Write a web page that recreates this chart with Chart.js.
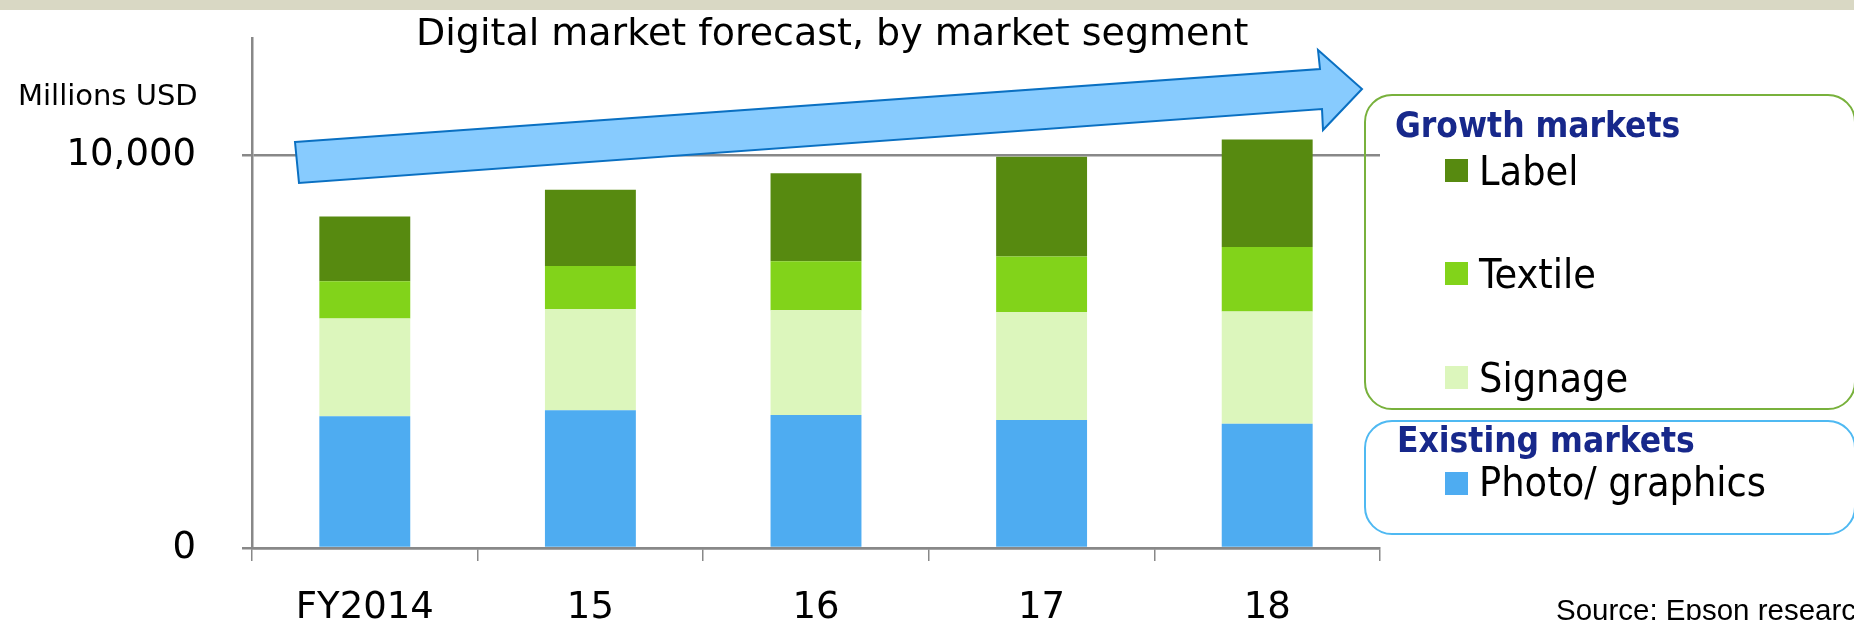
<!DOCTYPE html>
<html>
<head>
<meta charset="utf-8">
<script src="https://cdn.jsdelivr.net/npm/chart.js@4.4.1/dist/chart.umd.min.js"></script>
<style>
  html, body { margin: 0; padding: 0; background: #ffffff; }
  #wrap { position: relative; width: 1854px; height: 620px; overflow: hidden; background: #ffffff; }
  #c { position: absolute; left: 0; top: 0; }
  .t { position: absolute; white-space: nowrap; line-height: 1; }
  .band { position: absolute; left: 0; top: 0; width: 1854px; height: 10px; background: #d9d8c4; }
  .box { position: absolute; box-sizing: border-box; border-radius: 28px; }
  .sq { position: absolute; width: 23px; height: 23px; }
</style>
</head>
<body>
<div id="wrap">
  <canvas id="c" width="1854" height="620"></canvas>
  <div class="band"></div>
</div>
<script>
// ---- data ----
const categories = ['FY2014', '15', '16', '17', '18'];
const photoGraphics = [3360, 3510, 3390, 3260, 3170];
const signage = [2490, 2580, 2670, 2750, 2860];
const textile = [950, 1100, 1250, 1420, 1640];
const label = [1650, 1940, 2240, 2540, 2740];
const yTickValues = [0, 10000];
const yAxisMax = 13000;
const seriesNames = ['Photo/ graphics', 'Signage', 'Textile', 'Label'];
const growthGroup = ['Label', 'Textile', 'Signage'];
const existingGroup = ['Photo/ graphics'];
const titleText = 'Digital market forecast, by market segment';
const unitText = 'Millions USD';
const sourceText = 'Source: Epson research';

// ---- styles ----
const colors = {
  'Photo/ graphics': '#4eacf1',
  'Signage': '#dcf6bc',
  'Textile': '#82d31a',
  'Label': '#578a10'
};
const VERD = "'DejaVu Sans', Verdana, sans-serif";
const TAHO = "'DejaVu Sans Condensed', 'DejaVu Sans', Tahoma, sans-serif";
const ARIAL = "'Liberation Sans', Arial, sans-serif";
const axisColor = '#888888';

const seriesValues = [photoGraphics, signage, textile, label];

const arrowPlugin = {
  id: 'arrow',
  afterDraw(chart) {
    const ctx = chart.ctx;
    ctx.save();
    ctx.beginPath();
    ctx.moveTo(295, 142);
    ctx.lineTo(1320, 69);
    ctx.lineTo(1318, 50);
    ctx.lineTo(1362, 89);
    ctx.lineTo(1323, 130);
    ctx.lineTo(1322, 109);
    ctx.lineTo(299, 183);
    ctx.closePath();
    ctx.fillStyle = '#87cbfe';
    ctx.fill();
    ctx.lineWidth = 2;
    ctx.strokeStyle = '#0a70c2';
    ctx.lineJoin = 'miter';
    ctx.stroke();
    ctx.restore();
  }
};

function noPad(s) {
  s.paddingTop = 0; s.paddingBottom = 0; s.paddingLeft = 0; s.paddingRight = 0;
}

new Chart(document.getElementById('c'), {
  type: 'bar',
  data: {
    labels: categories,
    datasets: seriesNames.map((n, i) => ({
      label: n,
      data: seriesValues[i],
      backgroundColor: colors[n],
      borderWidth: 0,
      barPercentage: 0.403,
      categoryPercentage: 1.0
    }))
  },
  options: {
    responsive: false,
    animation: false,
    devicePixelRatio: 1,
    layout: { padding: { top: 38, right: 474, left: 0, bottom: 0 } },
    plugins: {
      legend: { display: false },
      tooltip: { enabled: false },
      title: { display: false }
    },
    scales: {
      x: {
        stacked: true,
        grid: { offset: true, drawOnChartArea: false, drawTicks: true, tickLength: 13, color: axisColor, lineWidth: 1.5 },
        border: { display: true, color: axisColor, width: 2.5 },
        ticks: { color: '#000', font: { family: VERD, size: 37 }, padding: 25, maxRotation: 0 },
        afterFit(s) { s.height = 72; noPad(s); }
      },
      y: {
        stacked: true,
        min: 0,
        max: yAxisMax,
        afterBuildTicks(s) { s.ticks = yTickValues.map(v => ({ value: v })); },
        grid: { color: axisColor, lineWidth: 2.5, drawTicks: true, tickLength: 10 },
        border: { display: true, color: axisColor, width: 2.5 },
        ticks: {
          color: '#000',
          font: { family: VERD, size: 37 },
          padding: 46,
          callback: v => Number(v).toLocaleString('en-US')
        },
        afterFit(s) { s.width = 252; noPad(s); }
      }
    }
  },
  plugins: [arrowPlugin]
});

// ---- HTML text and legend ----
const wrap = document.getElementById('wrap');
function addText(txt, x, baseline, size, family, opts = {}) {
  const d = document.createElement('div');
  d.className = 't';
  d.textContent = txt;
  d.style.fontFamily = family;
  d.style.fontSize = size + 'px';
  d.style.fontWeight = opts.bold ? 'bold' : 'normal';
  d.style.color = opts.color || '#000';
  d.style.top = (baseline - 0.846 * size) + 'px';
  wrap.appendChild(d);
  if (opts.center) {
    d.style.left = (x - d.offsetWidth / 2) + 'px';
  } else {
    d.style.left = x + 'px';
  }
  return d;
}
function addBox(l, t, w, h, color) {
  const b = document.createElement('div');
  b.className = 'box';
  b.style.left = l + 'px'; b.style.top = t + 'px';
  b.style.width = w + 'px'; b.style.height = h + 'px';
  b.style.border = '2px solid ' + color;
  wrap.appendChild(b);
}
function addSquare(l, t, color) {
  const s = document.createElement('div');
  s.className = 'sq';
  s.style.left = l + 'px'; s.style.top = t + 'px';
  s.style.background = color;
  wrap.appendChild(s);
}

addText(titleText, 832, 45, 38, VERD, { center: true });
addText(unitText, 18, 106, 29, VERD);

addBox(1364, 94, 492, 316, '#78b13c');
addBox(1364, 420, 492, 115, '#4fb9f2');

const navy = '#17288b';
addText('Growth markets', 1395, 138, 35, TAHO, { bold: true, color: navy });
const growthBaselines = [186, 289, 393];
growthGroup.forEach((n, i) => {
  addSquare(1445, growthBaselines[i] - 27, colors[n]);
  addText(n, 1479, growthBaselines[i], 41, TAHO);
});
addText('Existing markets', 1397, 453, 35, TAHO, { bold: true, color: navy });
existingGroup.forEach((n, i) => {
  addSquare(1445, 497 - 25, colors[n]);
  addText(n, 1479, 497, 41, TAHO);
});
addText(sourceText, 1556, 620, 29.5, ARIAL);
</script>
</body>
</html>
